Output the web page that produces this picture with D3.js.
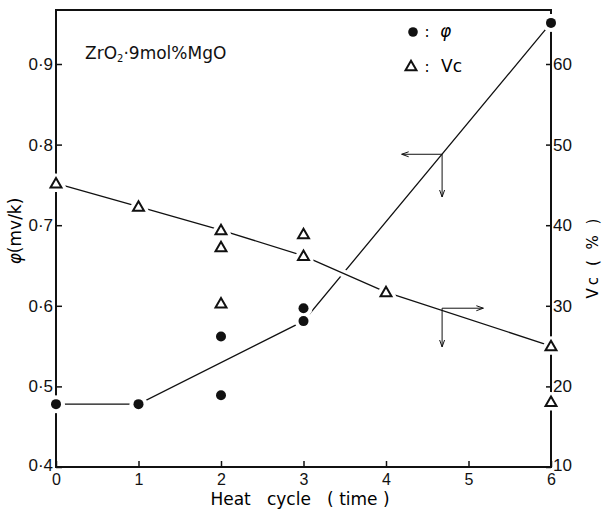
<!DOCTYPE html>
<html>
<head>
<meta charset="utf-8">
<script src="https://cdn.jsdelivr.net/npm/d3@7"></script>
<style>
  html, body { margin: 0; padding: 0; background: #fff; }
  svg { display: block; font-family: "DejaVu Sans", sans-serif; }
</style>
</head>
<body>
<div id="chart"></div>
<script>
const WIDTH = 602;
const HEIGHT = 510;

// phi (mV/K), filled circles
const PHI_CYCLE = [0, 1, 2, 2, 3, 3, 6];
const PHI = [0.478, 0.478, 0.562, 0.489, 0.597, 0.581, 0.951];
// connecting line for phi
const PHI_LINE_CYCLE = [0, 1, 3, 6];
const PHI_LINE = [0.478, 0.478, 0.581, 0.951];

// Vc (%), open triangles
const VC_CYCLE = [0, 1, 2, 2, 2, 3, 3, 4, 6, 6];
const VC = [45.2, 42.3, 39.4, 37.3, 30.3, 38.9, 36.2, 31.7, 25.0, 18.1];
const VC_LINE_CYCLE = [0, 1, 2, 3, 4, 6];
const VC_LINE = [45.2, 42.3, 39.4, 36.2, 31.7, 25.0];

const X_TICKS = [0, 1, 2, 3, 4, 5, 6];
const PHI_TICKS = [0.4, 0.5, 0.6, 0.7, 0.8, 0.9];
const VC_TICKS = [10, 20, 30, 40, 50, 60];

// axis-pointer annotations: [cycle, value, cycle end, value end]
const PHI_POINTER = [4.68, 0.788, 4.19, 0.735];
const VC_POINTER = [4.68, 29.7, 5.18, 24.9];

const x = d3.scaleLinear().domain([0, 6]).range([56, 551]);
const yPhi = d3.scaleLinear().domain([0.4, 0.967]).range([467, 10]);
const yVc = d3.scaleLinear().domain([10, 66.7]).range([467, 10]);

const svg = d3.select("#chart").append("svg")
  .attr("width", WIDTH).attr("height", HEIGHT)
  .attr("viewBox", [0, 0, WIDTH, HEIGHT]);

const defs = svg.append("defs");
defs.append("marker")
  .attr("id", "arrow")
  .attr("viewBox", "0 -4 8 8")
  .attr("refX", 7).attr("refY", 0)
  .attr("markerWidth", 8).attr("markerHeight", 8)
  .attr("markerUnits", "userSpaceOnUse")
  .attr("orient", "auto")
  .append("path")
  .attr("d", "M0,-2.5L7,0L0,2.5")
  .attr("fill", "none")
  .attr("stroke", "#111")
  .attr("stroke-width", 1);

const fmt = (d) => d3.format(".1f")(d).replace(".", "·");

// frame + axes
const axisG = svg.append("g").attr("stroke", "#111").attr("stroke-width", 2).attr("fill", "none");
axisG.append("path")
  .attr("d", `M${x(6)},${yPhi(0.967) + 4}V${yPhi(0.967)}H${x(0)}V${yPhi(0.4)}H${x(6)}V${yPhi(0.967) + 12}`);

const leftAxis = d3.axisLeft(yPhi).tickValues(PHI_TICKS).tickSize(-6).tickPadding(3).tickFormat(fmt);
const rightAxis = d3.axisRight(yVc).tickValues(VC_TICKS).tickSize(-5).tickPadding(2).tickFormat(d3.format("d"));
const bottomAxis = d3.axisBottom(x).tickValues(X_TICKS).tickSize(-6).tickPadding(7).tickFormat(d3.format("d"));

function styleAxis(g) {
  g.select(".domain").remove();
  g.selectAll(".tick line").attr("stroke", "#111").attr("stroke-width", 1.5);
  g.selectAll(".tick text").attr("fill", "#111").style("font-size", "17px");
}

svg.append("g").attr("transform", `translate(${x(0)},0)`).call(leftAxis).call(styleAxis)
  .selectAll(".tick text").attr("dy", (d) => (d === 0.4 ? "0.2em" : "0.32em"));
svg.append("g").attr("transform", `translate(${x(6)},0)`).call(rightAxis).call(styleAxis)
  .selectAll(".tick text").attr("dy", (d) => (d === 10 ? "0.2em" : "0.32em"));
svg.append("g").attr("transform", `translate(0,${yPhi(0.4)})`).call(bottomAxis).call(styleAxis)
  .selectAll(".tick text").style("font-size", "16px");

// data lines
const phiLine = d3.line().x((d) => x(d[0])).y((d) => yPhi(d[1]));
const vcLine = d3.line().x((d) => x(d[0])).y((d) => yVc(d[1]));
const phiLineData = d3.zip(PHI_LINE_CYCLE, PHI_LINE);
const vcLineData = d3.zip(VC_LINE_CYCLE, VC_LINE);

svg.append("path").datum(phiLineData).attr("d", phiLine)
  .attr("fill", "none").attr("stroke", "#111").attr("stroke-width", 1.3);
// white halo so the phi line breaks where the Vc line crosses it
svg.append("path").datum(vcLineData).attr("d", vcLine)
  .attr("fill", "none").attr("stroke", "#fff").attr("stroke-width", 8);
svg.append("path").datum(vcLineData).attr("d", vcLine)
  .attr("fill", "none").attr("stroke", "#111").attr("stroke-width", 1.3);

// markers
const tri = d3.symbol().type(d3.symbolTriangle).size(52);
const phiPts = d3.zip(PHI_CYCLE, PHI);
const vcPts = d3.zip(VC_CYCLE, VC);

// halos first
svg.append("g").selectAll("circle").data(phiPts).join("circle")
  .attr("cx", (d) => x(d[0])).attr("cy", (d) => yPhi(d[1])).attr("r", 9).attr("fill", "#fff");
svg.append("g").selectAll("path").data(vcPts).join("path")
  .attr("transform", (d) => `translate(${x(d[0])},${yVc(d[1]) + 1})`)
  .attr("d", tri).attr("fill", "#fff").attr("stroke", "#fff").attr("stroke-width", 9)
  .attr("stroke-linejoin", "round");

svg.append("g").selectAll("circle").data(phiPts).join("circle")
  .attr("cx", (d) => x(d[0])).attr("cy", (d) => yPhi(d[1])).attr("r", 5).attr("fill", "#111");
svg.append("g").selectAll("path").data(vcPts).join("path")
  .attr("transform", (d) => `translate(${x(d[0])},${yVc(d[1]) + 1})`)
  .attr("d", tri).attr("fill", "#fff").attr("stroke", "#111").attr("stroke-width", 2);

// axis pointers
function pointer(p, y) {
  const g = svg.append("g").attr("stroke", "#111").attr("stroke-width", 1).attr("fill", "none");
  g.append("line").attr("x1", x(p[0])).attr("y1", y(p[1])).attr("x2", x(p[2])).attr("y2", y(p[1]))
    .attr("marker-end", "url(#arrow)");
  g.append("line").attr("x1", x(p[0])).attr("y1", y(p[1])).attr("x2", x(p[0])).attr("y2", y(p[3]))
    .attr("marker-end", "url(#arrow)");
}
pointer(PHI_POINTER, yPhi);
pointer(VC_POINTER, yVc);

// texts
const comp = svg.append("text").attr("x", 85).attr("y", 59).attr("fill", "#111").style("font-size", "17px");
comp.append("tspan").text("ZrO");
comp.append("tspan").attr("dy", 3).style("font-size", "10px").text("2");
comp.append("tspan").attr("dy", -3).text("·9mol%MgO");

// legend
svg.append("circle").attr("cx", 413).attr("cy", 32).attr("r", 4.8).attr("fill", "#111");
svg.append("text").attr("x", 427).attr("y", 37).attr("text-anchor", "middle").style("font-size", "15px").text(":");
svg.append("text").attr("x", 440).attr("y", 37).style("font-size", "17px").style("font-style", "italic").text("φ");
svg.append("path").attr("transform", "translate(411,67)").attr("d", tri)
  .attr("fill", "#fff").attr("stroke", "#111").attr("stroke-width", 2);
svg.append("text").attr("x", 427).attr("y", 72).attr("text-anchor", "middle").style("font-size", "15px").text(":");
svg.append("text").attr("x", 441).attr("y", 72).style("font-size", "17px").text("Vc");

// axis titles
svg.append("text").attr("transform", "translate(21,231) rotate(-90)")
  .attr("text-anchor", "middle").style("font-size", "17px")
  .html('<tspan font-style="italic">φ</tspan>(mv/k)');
svg.append("text").attr("transform", "translate(598,257) rotate(-90)")
  .attr("text-anchor", "middle").style("font-size", "15px").style("letter-spacing", "3px")
  .text("Vc ( % )");
svg.append("text").attr("x", 300).attr("y", 505).attr("text-anchor", "middle")
  .style("font-size", "17px").attr("xml:space", "preserve").style("white-space", "pre")
  .text("Heat   cycle   ( time )");
</script>
</body>
</html>
